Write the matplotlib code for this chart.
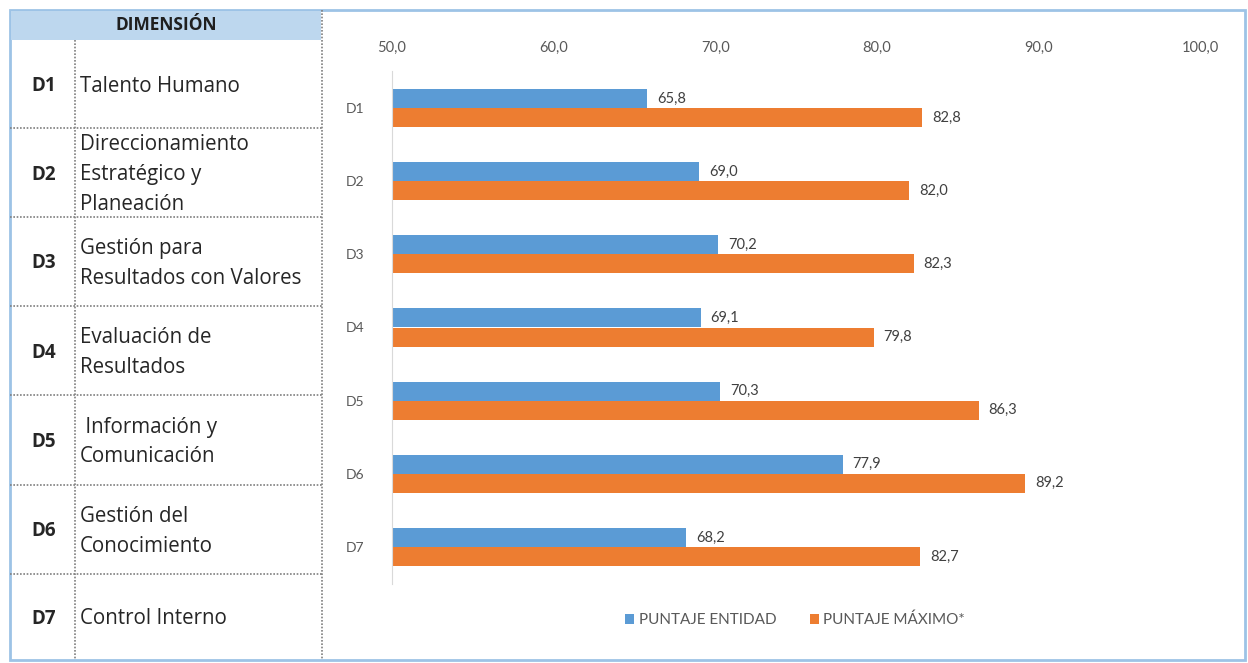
import numpy as np
import matplotlib.pyplot as plt
from matplotlib.patches import Rectangle

# data
dims = ['D1', 'D2', 'D3', 'D4', 'D5', 'D6', 'D7']
dim_names = ['Talento Humano',
             'Direccionamiento\nEstratégico y\nPlaneación',
             'Gestión para\nResultados con Valores',
             'Evaluación de\nResultados',
             ' Información y\nComunicación',
             'Gestión del\nConocimiento',
             'Control Interno']
puntaje_entidad = [65.8, 69.0, 70.2, 69.1, 70.3, 77.9, 68.2]
puntaje_maximo = [82.8, 82.0, 82.3, 79.8, 86.3, 89.2, 82.7]
series_names = ['PUNTAJE ENTIDAD', 'PUNTAJE MÁXIMO*']
x_ticks = [50, 60, 70, 80, 90, 100]

blue = '#5B9BD5'
orange = '#ED7D31'
gray = '#595959'
frame = '#9DC3E6'
font = 'Lato'
tfont = 'Open Sans'

W, H = 1248, 663
fig = plt.figure(figsize=(W / 100, H / 100), dpi=100)

# overlay in pixel coords for the table part
bg = fig.add_axes([0, 0, 1, 1])
bg.set_xlim(0, W)
bg.set_ylim(H, 0)
bg.axis('off')

# outer frame
bg.add_patch(Rectangle((10, 10), 1235, 650, fill=False, edgecolor=frame, lw=2))
# header
bg.add_patch(Rectangle((11, 11), 310, 29, facecolor='#BDD7EE', edgecolor='none'))
bg.text(166, 25, 'DIMENSIÓN', ha='center', va='center', fontsize=12.5,
        fontweight='bold', color='#1F1F1F', family=tfont)

# dotted grid of the table
dot = dict(color='#7F7F7F', lw=1.2, ls=(0, (1, 1)))
bg.plot([75, 75], [40, 660], **dot)
bg.plot([322, 322], [10, 660], **dot)
row_edges = [40, 128, 217, 306, 395, 485, 574, 660]
for y in row_edges[1:-1]:
    bg.plot([10, 322], [y, y], **dot)

for i in range(len(dims)):
    yc = (row_edges[i] + row_edges[i + 1]) / 2 + 2
    bg.text(44, yc, dims[i], ha='center', va='center', fontsize=13.5,
            fontweight='bold', color='#262626', family=tfont)
    bg.text(80, yc, dim_names[i], ha='left', va='center', fontsize=14.8,
            color='#262626', family=tfont, linespacing=1.56)

# bar chart
ax = fig.add_axes([392 / W, 1 - 583.6 / H, 808 / W, 512.2 / H])
pos = np.arange(len(dims))
bh = 0.26
ax.barh(pos - bh / 2, puntaje_entidad, height=bh, color=blue, label=series_names[0])
ax.barh(pos + bh / 2, puntaje_maximo, height=bh, color=orange, label=series_names[1])

ax.set_xlim(50, 100)
ax.set_ylim(len(dims) - 0.5, -0.5)
ax.set_yticks(pos)
ax.set_yticklabels(dims, fontsize=10, color=gray, family=font)
ax.set_xticks(x_ticks)
ax.set_xticklabels([f'{v:.1f}'.replace('.', ',') for v in x_ticks],
                   fontsize=10.5, color=gray, family=font)
ax.xaxis.tick_top()
ax.tick_params(axis='x', length=0, pad=12)
ax.tick_params(axis='y', length=0, pad=20)
for s in ['top', 'right', 'bottom']:
    ax.spines[s].set_visible(False)
ax.spines['left'].set_color('#D9D9D9')

for i in range(len(dims)):
    ax.annotate(f'{puntaje_entidad[i]:.1f}'.replace('.', ','),
                (puntaje_entidad[i], pos[i] - bh / 2), xytext=(7, 0),
                textcoords='offset points', va='center', fontsize=10.5,
                color='#404040', family=font)
    ax.annotate(f'{puntaje_maximo[i]:.1f}'.replace('.', ','),
                (puntaje_maximo[i], pos[i] + bh / 2), xytext=(7, 0),
                textcoords='offset points', va='center', fontsize=10.5,
                color='#404040', family=font)

leg = ax.legend(loc='center', bbox_to_anchor=(795 / W, 1 - 620 / H),
                bbox_transform=fig.transFigure, ncol=2, frameon=False,
                handlelength=0.6, handleheight=0.6, handletextpad=0.3,
                columnspacing=2.2, prop={'family': font, 'size': 11})
for t in leg.get_texts():
    t.set_color(gray)

fig.savefig('out.png', dpi=100)
